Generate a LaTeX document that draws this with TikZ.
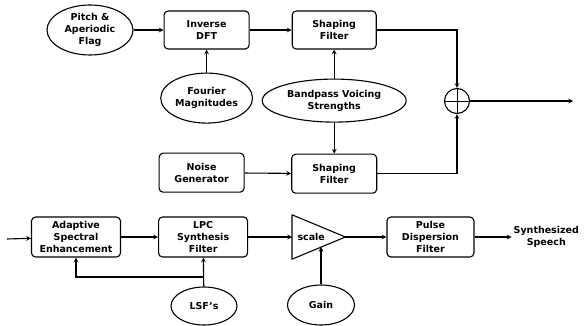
\documentclass[tikz,border=0pt]{standalone}
\usepackage{fontspec}
\setmainfont{DejaVu Sans}
\usepackage{tikz}
\usetikzlibrary{shapes,arrows,positioning,calc}

\begin{document}
\begin{tikzpicture}[
    x=1pt, y=1pt,
    font=\bfseries\fontsize{9.5}{12}\selectfont,
    block/.style={rectangle, rounded corners=4pt, minimum width=85pt, minimum height=38pt, text centered, draw=black, line width=1.1pt, align=center, inner sep=1pt},
    param/.style={ellipse, minimum width=85pt, minimum height=50pt, text centered, draw=black, line width=1.1pt, align=center, inner sep=1pt},
    arrow/.style={line width=1.1pt,->,>=stealth}
]
\useasboundingbox (0,0) rectangle (587,-326);

% upper part: excitation
\node (pitch) [param, minimum width=86pt] at (90,-30) {Pitch \&\\Aperiodic\\Flag};
\node (dft) [block, right=30pt of pitch] {Inverse\\DFT};
\node (shp1) [block, minimum width=84pt, right=42pt of dft] {Shaping\\Filter};
\node (fourier) [param, below=23pt of dft] {Fourier\\Magnitudes};
\node (bpv) [param, minimum width=144pt, minimum height=43pt, below=29pt of shp1] {Bandpass Voicing\\Strengths};
\node (noise) [block, minimum height=39pt, below=29pt of fourier, xshift=-5pt] {Noise\\Generator};
\node (shp2) [block, minimum height=39pt, below=31pt of bpv] {Shaping\\Filter};

% adder
\node (sum) [circle, draw=black, line width=1.1pt, minimum size=25pt, inner sep=0pt] at (457,-101) {};
\draw [line width=0.9pt] (sum.north) -- (sum.south) (sum.west) -- (sum.east);
\coordinate (out) at (573,-101);

% lower part: synthesis
\coordinate (in) at (7,-239);
\node (ase) [block, minimum width=89pt, minimum height=40pt] at (76,-237) {Adaptive\\Spectral\\Enhancement};
\node (lpc) [block, minimum width=89pt, minimum height=40pt, right=37pt of ase] {LPC\\Synthesis\\Filter};
\node (tri) [minimum width=53pt, minimum height=44pt, inner sep=0pt, anchor=west] at (292,-237) {};
\draw [line width=1.1pt, line join=round] (tri.north west) -- (tri.east) -- (tri.south west) -- cycle;
\node (scl) [right=2pt of tri.west] {scale};
\coordinate (edge) at ($(tri.south west)!0.55!(tri.east)$);
\node (pdf) [block, minimum width=87pt, minimum height=40pt, right=41pt of tri] {Pulse\\Dispersion\\Filter};
\node (speech) [right=37pt of pdf, inner sep=2pt, align=center] {Synthesized\\Speech};
\node (lsf) [param, minimum width=66pt, minimum height=38pt] at (204,-306) {LSF's};
\node (gain) [param, minimum width=67pt, minimum height=40pt] at (321,-305) {Gain};
\coordinate (br) at (204,-277);

% arrows
\draw [arrow] (pitch) -- (dft);
\draw [arrow] (dft) -- (shp1);
\draw [arrow] (fourier) -- (dft);
\draw [arrow] (bpv) -- (shp1);
\draw [arrow] (bpv) -- (shp2);
\draw [arrow] (noise) -- (shp2);
\draw [arrow] (shp1.east) -| (sum.north);
\draw [arrow] (shp2.east) -| (sum.south);
\draw [arrow] (sum) -- (out);
\draw [arrow] (in) -- (ase);
\draw [arrow] (ase) -- (lpc);
\draw [arrow] (lpc) -- (tri.west);
\draw [arrow] (tri.east) -- (pdf);
\draw [arrow] (pdf) -- (speech);
\draw [arrow] (lsf) -- (lpc);
\draw [arrow] (br) -| (ase);
\draw [arrow] (gain) -- (gain |- edge);

\end{tikzpicture}
\end{document}
